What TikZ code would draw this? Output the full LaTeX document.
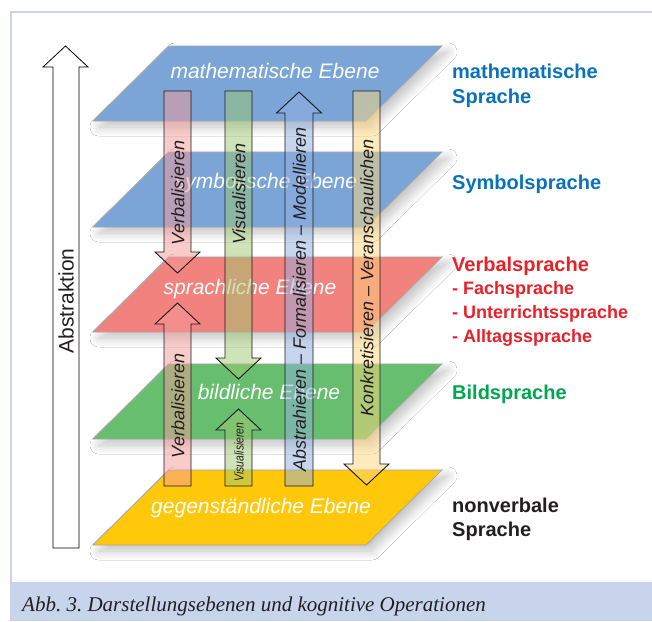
\documentclass[tikz,border=0pt]{standalone}
\usepackage{fontspec}
\setsansfont{Liberation Sans}
\newfontfamily\capfont{Liberation Serif}
\usetikzlibrary{shadows.blur}
\definecolor{framecol}{RGB}{199,212,236}
\definecolor{planeblue}{RGB}{123,165,214}
\definecolor{planered}{RGB}{242,130,125}
\definecolor{planegreen}{RGB}{102,190,110}
\definecolor{planeyellow}{RGB}{255,200,10}
\definecolor{arrpink}{RGB}{245,155,155}
\definecolor{arrgreen}{RGB}{158,200,115}
\definecolor{arrblue}{RGB}{145,175,225}
\definecolor{arryellow}{RGB}{255,215,125}
\definecolor{txtblue}{RGB}{10,114,188}
\definecolor{txtred}{RGB}{232,32,40}
\definecolor{txtgreen}{RGB}{0,166,80}
\definecolor{txtdark}{RGB}{35,31,32}
\newcommand\blkdown[4]{\path[blockarrow, fill=#4] (#1-13.5,#2) -- (#1+13.5,#2) -- (#1+13.5,#3-21) -- (#1+22.5,#3-21) -- (#1,#3) -- (#1-22.5,#3-21) -- (#1-13.5,#3-21) -- cycle;}
\newcommand\blkup[4]{\path[blockarrow, fill=#4] (#1-13.5,#3) -- (#1+13.5,#3) -- (#1+13.5,#2+21) -- (#1+22.5,#2+21) -- (#1,#2) -- (#1-22.5,#2+21) -- (#1-13.5,#2+21) -- cycle;}
\newcommand\planeat[3]{\path[plane, fill=#2] (93,#1+75) -- (366,#1+75) -- (442,#1) -- (169,#1) -- cycle;}
\begin{document}
\begin{tikzpicture}[x=1pt,y=-1pt,
  plane/.style={draw=black!35, line width=0.7pt,
    blur shadow={shadow xshift=6pt, shadow yshift=-6pt, shadow blur radius=9pt, shadow blur steps=14, shadow opacity=24}},
  blockarrow/.style={draw=black!90, line width=0.9pt, fill opacity=0.5},
  planelabel/.style={anchor=base, text=white, font=\sffamily\itshape\fontsize{21}{24}\selectfont, inner sep=0pt},
  arrlabel/.style={rotate=90, text=txtdark, font=\sffamily\itshape\fontsize{18}{21}\selectfont, inner sep=0pt},
  sidelabel/.style={anchor=base west, font=\sffamily\bfseries\fontsize{20}{24}\selectfont, inner sep=0pt},
  sublabel/.style={anchor=base west, text=txtred, font=\sffamily\bfseries\fontsize{18}{22}\selectfont, inner sep=0pt}]
\useasboundingbox (0,0) rectangle (652,621);
% frame
\fill[white] (0,0) rectangle (652,621);
\draw[framecol, line width=2.5pt] (11,583) -- (11,12) -- (652,12);
\fill[framecol] (9.75,582) rectangle (652,621);
\node[anchor=base west, inner sep=0pt, text=txtdark, font=\capfont\itshape\fontsize{21}{24}\selectfont] (cap) at (22,611) {\frenchspacing Abb. 3. Darstellungsebenen und kognitive Operationen};
% Abstraktion arrow
\path[draw=black, line width=0.8pt, fill=white] (53,548) -- (79,548) -- (79,67) -- (88,67) -- (65.5,46) -- (43,67) -- (53,67) -- cycle;
\node[rotate=90, inner sep=0pt, text=txtdark, font=\sffamily\fontsize{21}{24}\selectfont] (abs) at (66,301) {Abstraktion};
% planes
\planeat{46}{planeblue}{}
\planeat{152}{planeblue}{}
\planeat{257}{planered}{}
\planeat{364}{planegreen}{}
\planeat{470}{planeyellow}{}
\node[planelabel] (p1) at (275,78) {mathematische Ebene};
\node[planelabel] (p2) at (266,188) {symbolische Ebene};
\node[planelabel] (p3) at (250,294) {sprachliche Ebene};
\node[planelabel] (p4) at (269,399) {bildliche Ebene};
\node[planelabel] (p5) at (261,513) {gegenständliche Ebene};
% block arrows
\blkdown{177.5}{91}{273}{arrpink}
\blkdown{238.5}{91}{379}{arrgreen}
\path[blockarrow, fill=arrblue] (285,486) -- (313,486) -- (313,113) -- (321.5,113) -- (299,92) -- (276.5,113) -- (285,113) -- cycle;
\blkdown{366.5}{91}{485}{arryellow}
\blkup{177.5}{303}{486}{arrpink}
\blkup{238.5}{409}{486}{arrgreen}
\node[arrlabel] (a1) at (178,193) {Verbalisieren};
\node[arrlabel] (a2) at (239,194) {Visualisieren};
\node[arrlabel] (a3) at (299.5,299) {Abstrahieren – Formalisieren – Modellieren};
\node[arrlabel] (a4) at (367,278) {Konkretisieren – Veranschaulichen};
\node[arrlabel] (a5) at (178,406) {Verbalisieren};
\node[arrlabel, font=\sffamily\itshape\fontsize{13}{15}\selectfont, xscale=0.8] (a6) at (239,452) {Visualisieren};
% side labels
\node[sidelabel, text=txtblue] (s1a) at (452,78) {mathematische};
\node[sidelabel, text=txtblue] (s1b) at (452,103) {Sprache};
\node[sidelabel, text=txtblue] (s2) at (452,189) {Symbolsprache};
\node[sidelabel, text=txtred] (s3) at (452,271) {Verbalsprache};
\node[sublabel] (s3a) at (452,294) {- Fachsprache};
\node[sublabel] (s3b) at (452,318) {- Unterrichtssprache};
\node[sublabel] (s3c) at (452,342) {- Alltagssprache};
\node[sidelabel, text=txtgreen] (s4) at (452,399) {Bildsprache};
\node[sidelabel, text=txtdark] (s5a) at (452,512) {nonverbale};
\node[sidelabel, text=txtdark] (s5b) at (452,536) {Sprache};
\end{tikzpicture}
\end{document}
